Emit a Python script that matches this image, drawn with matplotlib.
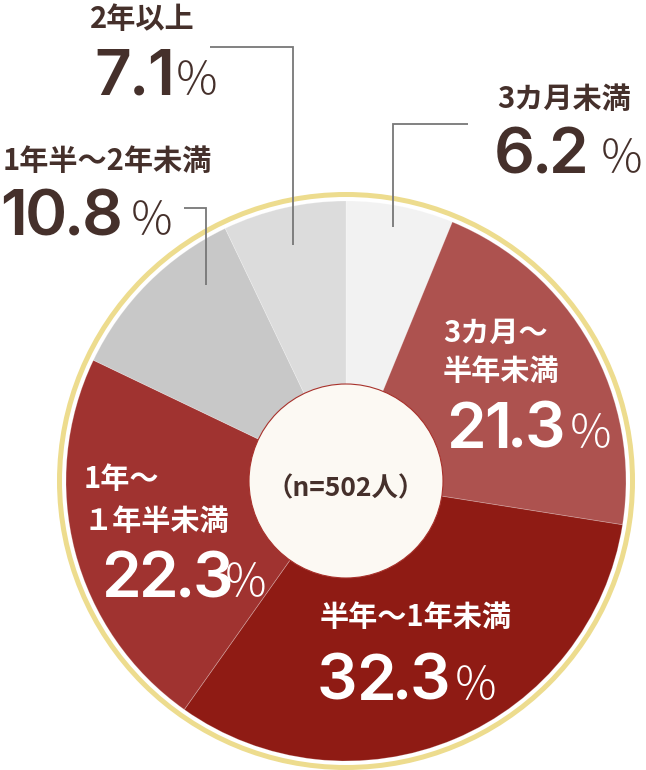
import matplotlib
matplotlib.use("Agg")
import matplotlib.pyplot as plt
from matplotlib.patches import Circle
from matplotlib.textpath import TextPath
from matplotlib.font_manager import FontProperties

# ------------------------------------------------------------
# Data
# ------------------------------------------------------------
categories = ["3カ月未満", "3カ月〜半年未満", "半年〜1年未満",
              "1年〜1年半未満", "1年半〜2年未満", "2年以上"]
shares = [6.2, 21.3, 32.3, 22.3, 10.8, 7.1]
label_lines = [["3カ月未満"], ["3カ月〜", "半年未満"], ["半年〜1年未満"],
               ["1年〜", "１年半未満"], ["1年半〜2年未満"], ["2年以上"]]
sample_note = "（n=502人）"

# ------------------------------------------------------------
# Style / layout (pixel coordinates, y measured from the top)
# ------------------------------------------------------------
W, H = 646, 770
CX, CY = 346, 481
R_PIE, R_RING, R_HOLE = 280, 286.5, 97

slice_colors = ["#f2f2f2", "#ad524f", "#8f1b14", "#a03330", "#c8c8c8", "#dcdcdc"]
text_colors = ["#45302b", "white", "white", "white", "#45302b", "#45302b"]
# x of label, baselines of label lines, baseline of number
label_layout = [
    (497, [108], 173),
    (443, [342, 380], 448),
    (320, [626], 700),
    (84, [488, 530], 597),
    (3, [170], 235),
    (90, [28], 95),
]
number_x = [497, 450, 320, 105, 3, 97]
percent_x = [603, 572, 457, 227, 133, 178]
# leader lines for the labels placed outside the pie
leaders = [
    ([468, 393, 393], [124, 124, 227]),
    ([184, 206, 206], [208, 208, 285]),
    ([210, 293, 293], [47, 47, 245]),
]

JP = ["Noto Sans CJK JP", "DejaVu Sans"]
NUM = ["Inter", "DejaVu Sans"]
NUM_SIZE = 46      # pt
PCT_SIZE = 33      # pt
DIGIT_GAP = 5.5    # ink gap between the big digits, px
num_prop = FontProperties(family=NUM, weight="semibold")
pct_prop = FontProperties(family=JP, weight="light")


def Y(y):
    return H - y


def ink(ch, prop, size_pt):
    # left / right ink edge of one glyph, in px, relative to its origin
    ext = TextPath((0, 0), ch, size=size_pt * 100 / 72, prop=prop).get_extents()
    return ext.x0, ext.x1


fig = plt.figure(figsize=(W / 100, H / 100), dpi=100)
ax = fig.add_axes([0, 0, 1, 1])

# gold outer ring
ax.add_patch(Circle((CX, Y(CY)), R_RING, fill=False, ec="#eddc8e", lw=5 * 0.72))

ax.pie(shares, colors=slice_colors, startangle=90, counterclock=False,
       center=(CX, Y(CY)), radius=R_PIE, frame=True,
       wedgeprops=dict(linewidth=0.6, edgecolor=(1, 1, 1, 0.25)))

# centre hole
ax.add_patch(Circle((CX, Y(CY)), R_HOLE, fc="#fcf9f3", ec="#a8322c", lw=0.8, zorder=3))
ax.text(CX, Y(496), sample_note, ha="center", va="baseline", fontsize=19,
        fontweight="bold", color="#45302b", family=JP, zorder=4)

ax.set_xlim(0, W)
ax.set_ylim(0, H)
ax.axis("off")

for xs, ys in leaders:
    ax.plot(xs, [Y(v) for v in ys], color="#777777", lw=1.3, zorder=2,
            solid_capstyle="butt", solid_joinstyle="miter")

for i, v in enumerate(shares):
    x, line_ys, num_y = label_layout[i]
    col = text_colors[i]
    for line, ly in zip(label_lines[i], line_ys):
        ax.text(x, Y(ly), line, ha="left", va="baseline", fontsize=21,
                fontweight="bold", color=col, family=JP, zorder=4)
    # big number, one character at a time so the tracking can be tightened
    target = number_x[i]
    for ch in f"{v:.1f}":
        x0, x1 = ink(ch, num_prop, NUM_SIZE)
        ax.text(target - x0, Y(num_y), ch, ha="left", va="baseline",
                fontproperties=num_prop, fontsize=NUM_SIZE, color=col, zorder=4)
        target += (x1 - x0) + DIGIT_GAP
    p0, _ = ink("％", pct_prop, PCT_SIZE)
    ax.text(percent_x[i] - p0, Y(num_y), "％", ha="left", va="baseline",
            fontproperties=pct_prop, fontsize=PCT_SIZE, color=col, zorder=4)

fig.savefig("out.png", dpi=100)
